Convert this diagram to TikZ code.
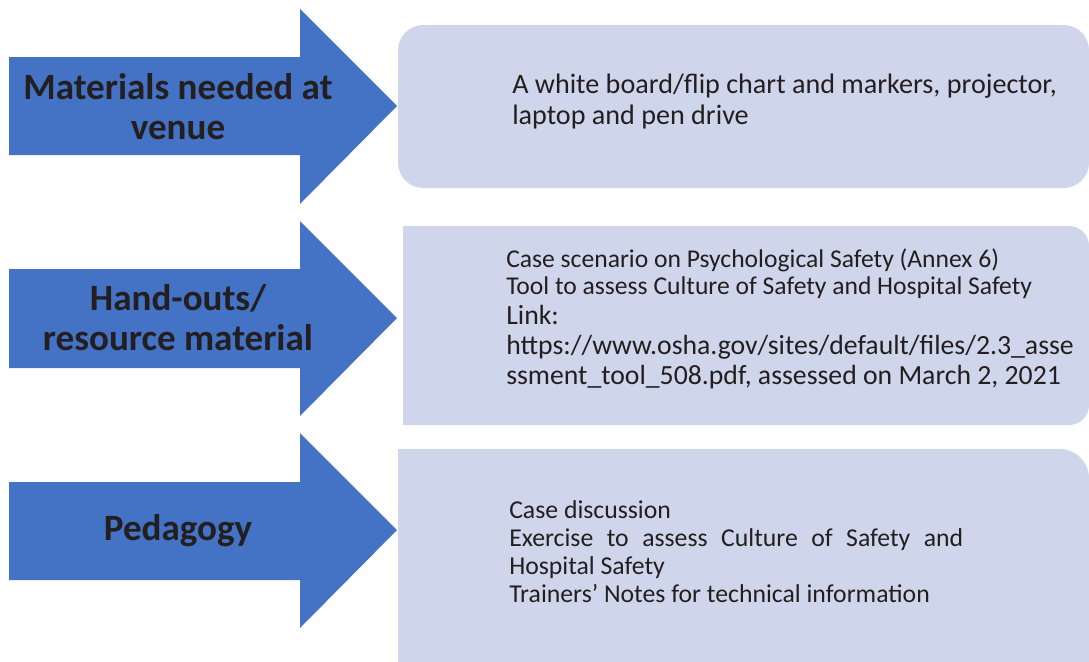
\documentclass[tikz,border=0pt]{standalone}
\usepackage{fontspec}
\setmainfont{Carlito}
\usetikzlibrary{positioning}
\definecolor{arrowblue}{HTML}{4472C4}
\definecolor{boxblue}{HTML}{CFD5EA}
\definecolor{inkgray}{HTML}{231F20}

\begin{document}
\begin{tikzpicture}[x=0.75pt, y=-0.75pt,
        arrowfill/.style={fill=arrowblue},
        boxfill/.style={fill=boxblue},
        headlabel/.style={font=\bfseries\fontsize{27.8}{30}\selectfont, text=inkgray, align=center, inner sep=0pt},
        itemtext/.style={text=inkgray, align=flush left, text width=440pt, anchor=base west, inner sep=0pt}]

        \useasboundingbox (0,0) rectangle (1089,661);
        \clip (0,0) rectangle (1089,661);

        % the three arrows
        \fill[arrowfill] (9,57) -- (300,57) -- (300,9) -- (397,106) -- (300,204) -- (300,155) -- (9,155) -- cycle;
        \fill[arrowfill] (9,269) -- (300,269) -- (300,221) -- (397,318) -- (300,416) -- (300,368) -- (9,368) -- cycle;
        \fill[arrowfill] (9,482) -- (300,482) -- (300,433) -- (397,530) -- (300,628) -- (300,580) -- (9,580) -- cycle;

        \node[headlabel] (materials) at (178,107) {Materials needed at\\venue};
        \node[headlabel] (handouts) at (178,318) {Hand-outs/\\resource material};
        \node[headlabel] (pedagogy) at (178,531) {Pedagogy};

        % the boxes
        \fill[boxfill, rounded corners=19pt] (398,25) rectangle (1089,188);
        \begin{scope}
          \clip (403,0) rectangle (1089,661);
          \fill[boxfill, rounded corners=15pt] (370,226) rectangle (1089,425);
        \end{scope}
        \begin{scope}
          \clip (398,0) rectangle (1089,661);
          \fill[boxfill, rounded corners=22pt] (360,449) rectangle (1089,720);
        \end{scope}

        \node[itemtext, font=\fontsize{21.1}{23.25}\selectfont] (venue) at (512,93)
          {A white board/flip chart and markers, projector,\\laptop and pen drive};

        \node[itemtext, font=\fontsize{19.2}{20.25}\selectfont] (resources) at (506,267)
          {Case scenario on Psychological Safety (Annex 6)\\Tool to assess Culture of Safety and Hospital Safety};
        \node[itemtext, font=\fontsize{20.8}{22.5}\selectfont] (link) at (506,324)
          {Link:\\https://www.osha.gov/sites/default/files/2.3\_asse\\ssment\_tool\_508.pdf, assessed on March 2, 2021};

        \node[itemtext, align=justify, text width=340.5pt, font=\fontsize{19.3}{21}\selectfont] (methods) at (509,518)
          {Case discussion\par
           Exercise to assess Culture of Safety and \mbox{Hospital} Safety\par
           Trainers' Notes for technical information};
\end{tikzpicture}
\end{document}
